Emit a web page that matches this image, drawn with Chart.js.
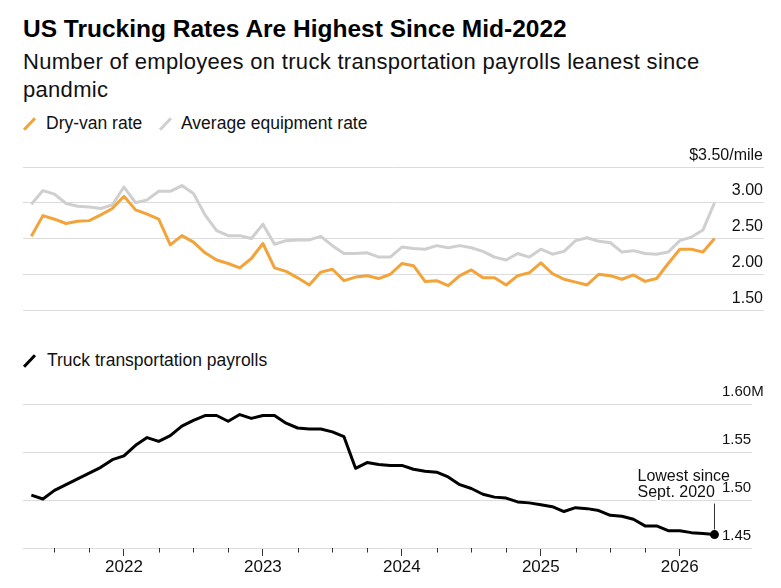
<!DOCTYPE html>
<html><head><meta charset="utf-8">
<script src="https://cdn.jsdelivr.net/npm/chart.js@4.4.1/dist/chart.umd.min.js"></script>
<style>
html,body{margin:0;padding:0;background:#fff;}
body{width:781px;height:588px;position:relative;overflow:hidden;font-family:"Liberation Sans",Arial,sans-serif;color:#000;}
.abs{position:absolute;white-space:nowrap;}
#title{left:23px;top:16.6px;font-size:24.5px;font-weight:bold;line-height:24.5px;}
#sub{left:23px;top:47.7px;font-size:22px;line-height:28px;color:#111;letter-spacing:0.3px;}
.leg{font-size:17.5px;line-height:17.5px;color:#111;}
.sw{position:absolute;width:3px;height:16px;transform:rotate(43deg);}
#c1wrap{left:0;top:140px;width:781px;height:180px;}
#c2wrap{left:0;top:380px;width:781px;height:208px;}
</style></head>
<body>
<div class="abs" id="title">US Trucking Rates Are Highest Since Mid-2022</div>
<div class="abs" id="sub">Number of employees on truck transportation payrolls leanest since<br>pandmic</div>
<div class="sw" style="left:28px;top:116px;background:#F2A33A"></div>
<div class="abs leg" style="left:46px;top:114.5px">Dry-van rate</div>
<div class="sw" style="left:163.5px;top:116px;background:#CFCFCF"></div>
<div class="abs leg" style="left:181px;top:114.5px">Average equipment rate</div>
<div class="sw" style="left:28px;top:353px;background:#000"></div>
<div class="abs leg" style="left:47px;top:352px">Truck transportation payrolls</div>
<div class="abs" id="c1wrap"><canvas id="c1"></canvas></div>
<div class="abs" id="c2wrap"><canvas id="c2"></canvas></div>
<script>
const months = ['2021-05','2021-06','2021-07','2021-08','2021-09','2021-10','2021-11','2021-12',
'2022-01','2022-02','2022-03','2022-04','2022-05','2022-06','2022-07','2022-08','2022-09','2022-10','2022-11','2022-12',
'2023-01','2023-02','2023-03','2023-04','2023-05','2023-06','2023-07','2023-08','2023-09','2023-10','2023-11','2023-12',
'2024-01','2024-02','2024-03','2024-04','2024-05','2024-06','2024-07','2024-08','2024-09','2024-10','2024-11','2024-12',
'2025-01','2025-02','2025-03','2025-04','2025-05','2025-06','2025-07','2025-08','2025-09','2025-10','2025-11','2025-12',
'2026-01','2026-02','2026-03','2026-04'];
const dryVan = [2.53,2.82,2.77,2.71,2.74,2.75,2.83,2.92,3.09,2.90,2.84,2.77,2.41,2.54,2.45,2.30,2.20,2.15,2.09,2.22,
2.43,2.09,2.04,1.95,1.85,2.03,2.07,1.91,1.96,1.98,1.94,2.00,2.15,2.12,1.90,1.91,1.84,1.98,2.06,1.95,
1.95,1.85,1.98,2.02,2.16,2.01,1.93,1.89,1.85,2.00,1.98,1.93,1.99,1.90,1.94,2.15,2.35,2.35,2.31,2.50];
const avgEquip = [2.98,3.17,3.12,2.99,2.95,2.94,2.92,2.97,3.22,3.00,3.04,3.16,3.16,3.24,3.13,2.83,2.61,2.54,2.54,2.50,
2.70,2.42,2.47,2.48,2.48,2.53,2.40,2.29,2.29,2.30,2.24,2.24,2.38,2.36,2.35,2.40,2.37,2.40,2.37,2.32,
2.24,2.20,2.29,2.24,2.35,2.28,2.32,2.47,2.51,2.46,2.44,2.31,2.33,2.29,2.28,2.31,2.47,2.52,2.62,3.00];
const payroll = [1.505,1.501,1.510,1.516,1.522,1.528,1.534,1.542,1.546,1.557,1.565,1.561,1.567,1.577,1.583,1.588,1.588,1.582,1.589,1.585,
1.588,1.588,1.580,1.575,1.574,1.574,1.571,1.566,1.533,1.539,1.537,1.536,1.536,1.532,1.530,1.529,1.524,1.516,1.512,1.506,
1.503,1.502,1.498,1.497,1.495,1.493,1.488,1.492,1.491,1.489,1.484,1.483,1.480,1.473,1.473,1.468,1.468,1.466,1.465,1.464];
const rateTicks = [1.5,2.0,2.5,3.0,3.5];
const rateTickLabels = ['1.50','2.00','2.50','3.00','$3.50/mile'];
const payTicks = [1.45,1.50,1.55,1.60];
const payTickLabels = ['1.45','1.50','1.55','1.60M'];
const noteLines = ['Lowest since','Sept. 2020'];

const FONT = '"Liberation Sans", Arial, sans-serif';
const toPts = arr => arr.map((v,i) => ({x:i, y:v}));
const yearIdx = months.map((m,i) => m.endsWith('-01') ? i : -1).filter(i => i >= 0);
const quarterIdx = months.map((m,i) => (/-(04|07|10)$/.test(m) && i < months.length-1) ? i : -1).filter(i => i >= 0);

const yLabels = {
  id:'yLabels',
  afterDraw(chart, args, o){
    const {ctx, chartArea, scales:{y}} = chart;
    ctx.save();
    ctx.font = o.font; ctx.fillStyle = '#111';
    ctx.textAlign = o.align; ctx.textBaseline = 'alphabetic';
    o.values.forEach((v,i) => ctx.fillText(o.labels[i], chartArea.right + o.dx, y.getPixelForValue(v) - o.dy));
    ctx.restore();
  }
};
const minorTicks = {
  id:'minorTicks',
  afterDraw(chart){
    const {ctx, chartArea, scales:{x}} = chart;
    ctx.save(); ctx.strokeStyle = '#333'; ctx.lineWidth = 1;
    quarterIdx.forEach(i => {
      const px = Math.round(x.getPixelForValue(i)) + 0.5;
      ctx.beginPath(); ctx.moveTo(px, chartArea.bottom); ctx.lineTo(px, chartArea.bottom + 4.5); ctx.stroke();
    });
    ctx.restore();
  }
};
const note = {
  id:'note',
  afterDatasetsDraw(chart){
    const {ctx} = chart;
    const meta = chart.getDatasetMeta(0);
    const p = meta.data[meta.data.length-1];
    ctx.save();
    ctx.strokeStyle = '#333'; ctx.lineWidth = 1;
    ctx.beginPath(); ctx.moveTo(p.x, p.y - 31); ctx.lineTo(p.x, p.y - 5); ctx.stroke();
    ctx.font = '16px ' + FONT; ctx.textAlign = 'left'; ctx.textBaseline = 'alphabetic';
    ctx.lineWidth = 3; ctx.strokeStyle = '#fff'; ctx.fillStyle = '#111';
    noteLines.forEach((t,i) => { ctx.strokeText(t, p.x - 77, p.y - 54 + i*16); ctx.fillText(t, p.x - 77, p.y - 54 + i*16); });
    ctx.restore();
  }
};

const gridY = {color:'#dcdcdc', lineWidth:1, drawTicks:false};

new Chart(document.getElementById('c1'), {
  type:'line',
  data:{datasets:[
    {label:'Dry-van rate', data:toPts(dryVan), borderColor:'#F2A33A', borderWidth:3, pointRadius:0, tension:0, borderJoinStyle:'round'},
    {label:'Average equipment rate', data:toPts(avgEquip), borderColor:'#CFCFCF', borderWidth:3, pointRadius:0, tension:0, borderJoinStyle:'round'}
  ]},
  options:{
    responsive:true, maintainAspectRatio:false, animation:false,
    layout:{padding:{left:23, right:17, top:27, bottom:10}},
    plugins:{legend:{display:false}, tooltip:{enabled:false},
      yLabels:{values:rateTicks, labels:rateTickLabels, font:'16px '+FONT, align:'right', dx:-1, dy:7.5}},
    scales:{
      x:{type:'linear', display:false, min:-0.72, max:63.27},
      y:{position:'right', min:1.5, max:3.5, grid:gridY, border:{display:false}, ticks:{display:false},
         afterBuildTicks:s => { s.ticks = rateTicks.map(v => ({value:v})); }}
    }
  },
  plugins:[yLabels]
});

new Chart(document.getElementById('c2'), {
  type:'line',
  data:{datasets:[
    {label:'Truck transportation payrolls', data:toPts(payroll), borderColor:'#000', backgroundColor:'#000', borderWidth:3,
     pointRadius:c => c.dataIndex === payroll.length-1 ? 4.5 : 0, pointBorderWidth:0, tension:0, borderJoinStyle:'round'}
  ]},
  options:{
    responsive:true, maintainAspectRatio:false, animation:false,
    layout:{padding:{left:23, right:29, top:24, bottom:9.6}},
    plugins:{legend:{display:false}, tooltip:{enabled:false},
      yLabels:{values:payTicks, labels:payTickLabels, font:'15px '+FONT, align:'left', dx:-30, dy:8}},
    scales:{
      x:{type:'linear', min:-0.72, max:62.24, border:{display:false},
         grid:{drawOnChartArea:false, drawTicks:true, tickLength:8, tickColor:'#333', lineWidth:1},
         afterBuildTicks:s => { s.ticks = yearIdx.map(v => ({value:v})); },
         ticks:{padding:1, color:'#111', font:{family:FONT, size:17}, maxRotation:0, autoSkip:false,
           callback:v => months[v] ? months[v].slice(0,4) : ''}},
      y:{position:'right', min:1.45, max:1.60, grid:gridY, border:{display:false}, ticks:{display:false},
         afterBuildTicks:s => { s.ticks = payTicks.map(v => ({value:v})); }}
    }
  },
  plugins:[yLabels, minorTicks, note]
});
</script>
</body></html>
